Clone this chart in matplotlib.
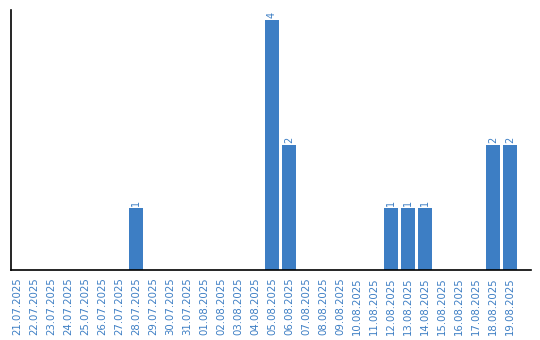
import matplotlib
matplotlib.use("Agg")
import matplotlib.pyplot as plt

dates = ["21.07.2025", "22.07.2025", "23.07.2025", "24.07.2025", "25.07.2025",
         "26.07.2025", "27.07.2025", "28.07.2025", "29.07.2025", "30.07.2025",
         "31.07.2025", "01.08.2025", "02.08.2025", "03.08.2025", "04.08.2025",
         "05.08.2025", "06.08.2025", "07.08.2025", "08.08.2025", "09.08.2025",
         "10.08.2025", "11.08.2025", "12.08.2025", "13.08.2025", "14.08.2025",
         "15.08.2025", "16.08.2025", "17.08.2025", "18.08.2025", "19.08.2025"]
counts = [0, 0, 0, 0, 0, 0, 0, 1, 0, 0,
          0, 0, 0, 0, 0, 4, 2, 0, 0, 0,
          0, 0, 1, 1, 1, 0, 0, 0, 2, 2]

blue = "#3d7ec4"

fig = plt.figure(figsize=(5.4, 3.4), dpi=100)
ax = fig.add_axes([11 / 540, 70 / 340, 520 / 540, 260 / 340])

x = list(range(len(dates)))
ax.bar(x, counts, width=0.82, color=blue)
for xi, c in zip(x, counts):
    if c > 0:
        ax.text(xi, c + 0.025, str(c), rotation=90, ha="center", va="bottom",
                color=blue, fontsize=7)

# slots are 17 px wide, the first one centred 6 px right of the axis
ax.set_xlim(-6 / 17, 30.24)
ax.set_ylim(0, 4.16)
ax.set_xticks(x)
ax.set_xticklabels(dates, rotation=90, color=blue, fontsize=7.3)
ax.tick_params(axis="x", length=0, pad=5)
ax.set_yticks([])
for s in ["top", "right"]:
    ax.spines[s].set_visible(False)
for s in ["left", "bottom"]:
    ax.spines[s].set_linewidth(1.2)

fig.savefig("out.png", dpi=100)
